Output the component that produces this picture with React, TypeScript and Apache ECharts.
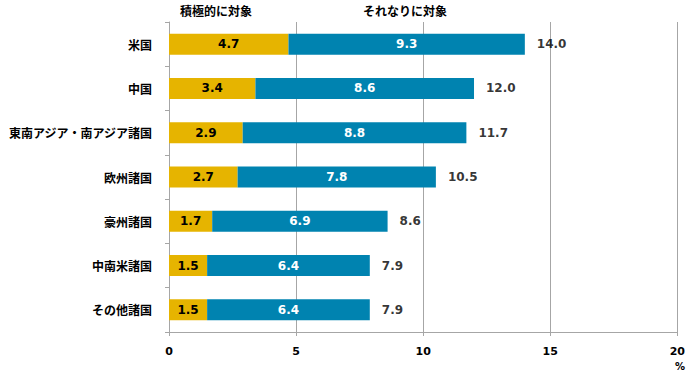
import React, { useEffect, useRef } from "react";
import * as echarts from "echarts";

const categories = ["米国", "中国", "東南アジア・南アジア諸国", "欧州諸国", "豪州諸国", "中南米諸国", "その他諸国"];
const activeValues = [4.7, 3.4, 2.9, 2.7, 1.7, 1.5, 1.5];
const moderateValues = [9.3, 8.6, 8.8, 7.8, 6.9, 6.4, 6.4];
const totalValues = [14.0, 12.0, 11.7, 10.5, 8.6, 7.9, 7.9];
const seriesNames = ["積極的に対象", "それなりに対象"];
const xTicks = [0, 5, 10, 15, 20];

const FONT = "'Noto Sans CJK JP', 'Noto Sans', sans-serif";
const NUM_FONT = "'DejaVu Sans', Verdana, sans-serif";

export default function App() {
  const ref = useRef<HTMLDivElement>(null);
  useEffect(() => {
    if (!ref.current) return;
    const chart = echarts.init(ref.current, undefined, { renderer: "svg" });
    const numLabel = (color: string) => ({
      show: true,
      position: "inside",
      color,
      fontSize: 12,
      fontWeight: "bold",
      fontFamily: NUM_FONT,
      formatter: (p: any) => p.value.toFixed(1),
    });
    chart.setOption({
      animation: false,
      textStyle: { fontFamily: FONT },
      grid: { left: 169, right: 9, top: 22, bottom: 46, containLabel: false },
      xAxis: {
        type: "value",
        min: xTicks[0],
        max: xTicks[xTicks.length - 1],
        interval: 5,
        axisLine: { show: true, lineStyle: { color: "#a6a6a6", width: 1 } },
        axisTick: { show: true, length: 4, lineStyle: { color: "#a6a6a6" } },
        splitLine: { show: true, lineStyle: { color: "#a6a6a6", width: 1 } },
        axisLabel: { color: "#000", fontSize: 11, fontWeight: "bold", margin: 14, fontFamily: NUM_FONT },
      },
      yAxis: {
        type: "category",
        data: categories,
        inverse: true,
        axisLine: { show: true, lineStyle: { color: "#a6a6a6", width: 1 } },
        axisTick: { show: true, length: 4, alignWithLabel: false, lineStyle: { color: "#a6a6a6" } },
        axisLabel: { color: "#000", fontSize: 12, fontWeight: "bold", margin: 17, fontFamily: FONT },
      },
      series: [
        {
          name: seriesNames[0],
          type: "bar",
          stack: "total",
          barWidth: 21,
          data: activeValues,
          itemStyle: { color: "#e6b400" },
          label: numLabel("#000"),
        },
        {
          name: seriesNames[1],
          type: "bar",
          stack: "total",
          barWidth: 21,
          data: moderateValues,
          itemStyle: { color: "#0083b0" },
          label: numLabel("#fff"),
        },
        {
          name: "合計",
          type: "scatter",
          symbolSize: 0,
          data: totalValues.map((v, i) => [v, i]),
          label: {
            show: true,
            position: "right",
            distance: 12,
            color: "#000",
            fontSize: 12,
            fontWeight: "bold",
            fontFamily: NUM_FONT,
            formatter: (p: any) => p.value[0].toFixed(1),
          },
        },
      ],
      graphic: [
        {
          type: "text",
          left: 180,
          top: 4,
          style: { text: seriesNames[0], fill: "#000", font: `bold 12px ${FONT}` },
        },
        {
          type: "text",
          left: 363,
          top: 4,
          style: { text: seriesNames[1], fill: "#000", font: `bold 12px ${FONT}` },
        },
        {
          type: "text",
          left: 675,
          top: 361,
          style: { text: "%", fill: "#000", font: `bold 10px ${NUM_FONT}` },
        },
      ],
    });
    return () => chart.dispose();
  }, []);
  return <div ref={ref} style={{ width: 688, height: 378, position: "absolute", left: 0, top: 0 }} />;
}
